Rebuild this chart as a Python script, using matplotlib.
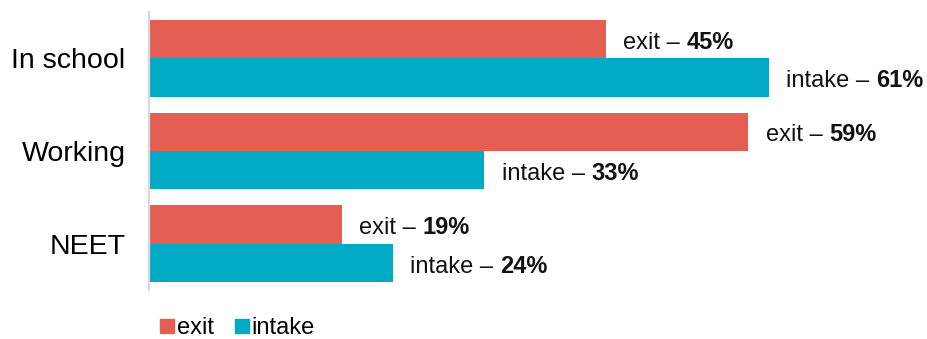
import matplotlib.pyplot as plt
from matplotlib.lines import Line2D
import numpy as np

plt.rcParams['font.family'] = ['Liberation Sans', 'DejaVu Sans']

categories = ["In school", "Working", "NEET"]
exit_pct = [45, 59, 19]
intake_pct = [61, 33, 24]

exit_color = "#E55E52"
intake_color = "#00AAC4"

W, H = 927, 339
fig = plt.figure(figsize=(W / 100, H / 100), dpi=100)
left, right_px, top_px, bottom_px = 149, 149 + 711, 12, 290
ax = fig.add_axes([left / W, (H - bottom_px) / H, (right_px - left) / W, (bottom_px - top_px) / H])

y = np.arange(len(categories))
h = 0.415
ax.barh(y - h / 2, exit_pct, height=h, color=exit_color, label="exit")
ax.barh(y + h / 2, intake_pct, height=h, color=intake_color, label="intake")

ax.set_xlim(0, 70)
ax.set_ylim(2.5, -0.5)
ax.set_yticks(y)
ax.set_yticklabels(categories, fontsize=20.5)
ax.tick_params(axis='y', length=0, pad=17)
ax.set_xticks([])
for s in ["top", "right", "bottom"]:
    ax.spines[s].set_visible(False)
ax.spines["left"].set_color("#d9d9d9")
ax.spines["left"].set_linewidth(1.6)


def label(value, ypos, name):
    t = ax.annotate(f"{name} \u2013 ", (value, ypos), xytext=(12.5, 0),
                    textcoords="offset points", va="center", ha="left",
                    fontsize=17, color="#111111", annotation_clip=False)
    ax.annotate(f"{value}%", xy=(1, 0), xycoords=t, va="bottom", ha="left",
                fontsize=17, fontweight="bold", color="#111111")


for i in range(len(categories)):
    label(exit_pct[i], y[i] - h / 2 + 0.04, "exit")
    label(intake_pct[i], y[i] + h / 2 + 0.04, "intake")

handles = [Line2D([], [], marker='s', linestyle='none', markersize=9.5, color=exit_color),
           Line2D([], [], marker='s', linestyle='none', markersize=9.5, color=intake_color)]
fig.legend(handles, ["exit", "intake"], loc="center left", bbox_to_anchor=(151 / W, 11 / H),
           ncol=2, frameon=False, fontsize=17, handlelength=0.55, handletextpad=0.15,
           columnspacing=0.9, borderaxespad=0)

fig.savefig("out.png", dpi=100)
